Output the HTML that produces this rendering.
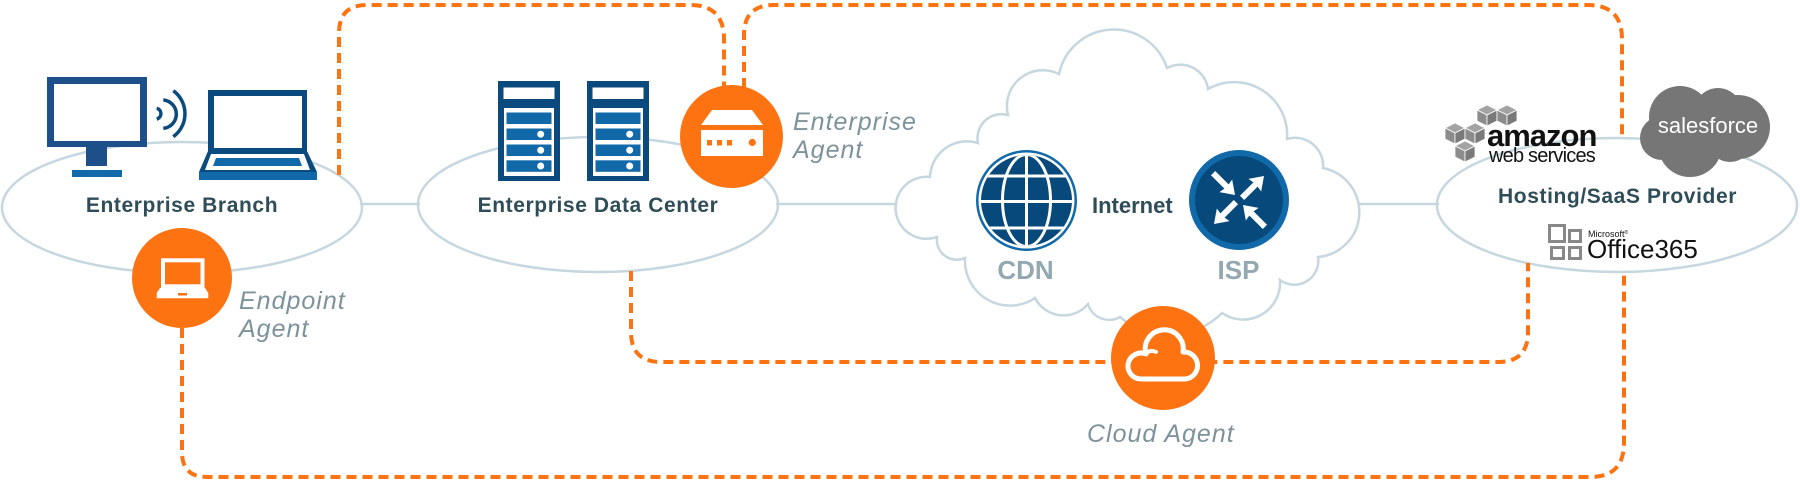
<!DOCTYPE html>
<html>
<head>
<meta charset="utf-8">
<style>
html,body{margin:0;padding:0;background:#fff;}
svg{display:block;}
text{font-family:"Liberation Sans",sans-serif;}
.lbl{font-weight:bold;font-size:21px;fill:#2f4d58;letter-spacing:0.6px;}
.it{font-style:italic;font-size:25px;fill:#7d929b;letter-spacing:1px;}
.gr{font-weight:bold;font-size:26px;fill:#93a8b0;}
</style>
</head>
<body>
<svg width="1800" height="480" viewBox="0 0 1800 480" xmlns="http://www.w3.org/2000/svg">
  <!-- connectors -->
  <g stroke="#c6d7df" stroke-width="2.5" fill="none">
    <line x1="360" y1="204" x2="420" y2="204"/>
    <line x1="776" y1="204" x2="900" y2="204"/>
    <line x1="1358" y1="204" x2="1439" y2="204"/>
  </g>
  <!-- ellipses -->
  <g stroke="#c6d7df" stroke-width="2.5" fill="none">
    <ellipse cx="182" cy="207.5" rx="180" ry="65.5"/>
    <ellipse cx="598" cy="204.5" rx="180" ry="67.5"/>
    <ellipse cx="1617" cy="205" rx="180" ry="67"/>
  </g>
  <!-- internet cloud -->
  <path d="M937,237 A31,31 0 1 1 930,177 A37,37 0 0 1 978,143 A24,24 0 0 1 1008,115 A36,36 0 0 1 1059,74 A56,56 0 0 1 1167,68 A28,28 0 0 1 1208,89 A53,53 0 0 1 1287,139 A28,28 0 0 1 1323,168 A45,45 0 0 1 1318,257 A24,24 0 0 1 1280,280 A37,37 0 0 1 1222,313 A75,75 0 0 1 1120,317 A22,22 0 0 1 1088,304 A32,32 0 0 1 1035,298 A45,45 0 0 1 965,258 A20,20 0 0 1 937,237 Z" fill="#fff" stroke="#c6d7df" stroke-width="2.5"/>

  <!-- dashed orange paths -->
  <g stroke="#fd7311" stroke-width="4" fill="none" stroke-dasharray="10 6">
    <path d="M339,175 L339,33 Q339,5 367,5 L690,5 Q724,5 724,39 L724,88"/>
    <path d="M744,88 L744,35 Q744,5 774,5 L1588,5 Q1622,5 1622,39 L1622,137"/>
    <path d="M631,271 L631,332 Q631,362 661,362 L1498,362 Q1528,362 1528,332 L1528,263"/>
    <path d="M182,328 L182,452 Q182,477 207,477 L1590,477 Q1624,477 1624,443 L1624,272"/>
  </g>

  <!-- monitor -->
  <rect x="47" y="77" width="100" height="70" fill="#1d4f88"/>
  <rect x="54" y="84" width="86" height="57" fill="#fff"/>
  <rect x="86" y="147" width="21" height="19" fill="#1d4f88"/>
  <rect x="72" y="170" width="50" height="7" fill="#1169aa"/>
  <!-- wifi -->
  <g stroke="#0b4a7e" stroke-width="3.5" fill="none" stroke-linecap="butt">
    <path d="M156.7,108.3 A5.5,5.5 0 0 1 156.7,119"/>
    <path d="M163.3,100 A14.2,14.2 0 0 1 163.3,128.3"/>
    <path d="M173.3,90.7 A28.5,28.5 0 0 1 173.3,136.7"/>
  </g>
  <!-- laptop -->
  <polygon points="208,90 307,90 307,151 317,172 199,172 208,151" fill="#0b4a7e"/>
  <rect x="214" y="96" width="88" height="52" fill="#fff"/>
  <polygon points="211,154 304,154 310,170 205,170" fill="#fff"/>
  <polygon points="216,158 299,158 302,166 213,166" fill="#1169aa"/>
  <rect x="199" y="172" width="118" height="8" fill="#1169aa"/>

  <!-- servers -->
  <g>
    <rect x="498" y="81" width="62" height="100" fill="#0b4a7e"/>
    <rect x="503.5" y="87.5" width="51" height="11.5" fill="#fff"/>
    <rect x="504" y="108" width="50" height="68" fill="#fff"/>
    <rect x="506.5" y="112.5" width="45" height="11.5" fill="#1169aa"/>
    <rect x="506.5" y="128.5" width="45" height="11.5" fill="#1169aa"/>
    <rect x="506.5" y="144.5" width="45" height="11.5" fill="#1169aa"/>
    <rect x="506.5" y="160.3" width="45" height="11.5" fill="#1169aa"/>
    <circle cx="540.7" cy="134.2" r="3.5" fill="#fff"/>
    <circle cx="540.7" cy="150.2" r="3.5" fill="#fff"/>
    <circle cx="540.7" cy="166" r="3.5" fill="#fff"/>
  </g>
  <g transform="translate(89,0)">
    <rect x="498" y="81" width="62" height="100" fill="#0b4a7e"/>
    <rect x="503.5" y="87.5" width="51" height="11.5" fill="#fff"/>
    <rect x="504" y="108" width="50" height="68" fill="#fff"/>
    <rect x="506.5" y="112.5" width="45" height="11.5" fill="#1169aa"/>
    <rect x="506.5" y="128.5" width="45" height="11.5" fill="#1169aa"/>
    <rect x="506.5" y="144.5" width="45" height="11.5" fill="#1169aa"/>
    <rect x="506.5" y="160.3" width="45" height="11.5" fill="#1169aa"/>
    <circle cx="540.7" cy="134.2" r="3.5" fill="#fff"/>
    <circle cx="540.7" cy="150.2" r="3.5" fill="#fff"/>
    <circle cx="540.7" cy="166" r="3.5" fill="#fff"/>
  </g>

  <!-- enterprise agent -->
  <circle cx="731.5" cy="136.5" r="51.5" fill="#fd7311"/>
  <polygon points="712,110 752,110 763,125 701,125" fill="#fff"/>
  <rect x="701" y="130" width="62" height="26" fill="#fff"/>
  <rect x="707" y="140" width="5" height="5.5" fill="#fd7311"/>
  <rect x="717" y="140" width="5" height="5.5" fill="#fd7311"/>
  <rect x="727" y="140" width="5" height="5.5" fill="#fd7311"/>
  <circle cx="752.3" cy="142.5" r="3.6" fill="#fd7311"/>

  <!-- endpoint agent -->
  <circle cx="182" cy="278" r="50" fill="#fd7311"/>
  <rect x="163" y="260.3" width="39.5" height="26" fill="none" stroke="#fff" stroke-width="4"/>
  <polygon points="160,288 205,288 208.3,293 208.3,298.3 156.7,298.3 156.7,293" fill="#fff"/>
  <rect x="178" y="293" width="9" height="2.5" fill="#fd7311"/>

  <!-- cloud agent -->
  <circle cx="1163" cy="358" r="52" fill="#fd7311"/>
  <path d="M1141,379 A13,13 0 1 1 1146,354 A19,19 0 1 1 1183,352 A13.5,13.5 0 1 1 1185,379 Z" fill="none" stroke="#fff" stroke-width="5" stroke-linejoin="round"/>
  <path d="M1146,354 Q1150,349 1156,352" fill="none" stroke="#fff" stroke-width="4" stroke-linecap="round"/>

  <!-- globe -->
  <circle cx="1026.5" cy="200.5" r="50.5" fill="#1169aa"/>
  <circle cx="1026.5" cy="200.5" r="48" fill="#fff"/>
  <circle cx="1026.5" cy="200.5" r="45.5" fill="#06497a"/>
  <clipPath id="gc"><circle cx="1026.5" cy="200.5" r="45.5"/></clipPath>
  <g clip-path="url(#gc)" stroke="#fff" stroke-width="3" fill="none">
    <line x1="1026.5" y1="150" x2="1026.5" y2="251"/>
    <ellipse cx="1026.5" cy="200.5" rx="24" ry="46"/>
    <line x1="975" y1="176" x2="1078" y2="176"/>
    <line x1="975" y1="201.5" x2="1078" y2="201.5"/>
    <line x1="975" y1="228" x2="1078" y2="228"/>
  </g>

  <!-- ISP -->
  <circle cx="1239" cy="200" r="50" fill="#1169aa"/>
  <circle cx="1239" cy="200" r="44" fill="#06497a"/>
  <g transform="translate(1239,200)" fill="#fff">
    <path transform="translate(-4,-5) rotate(45)" d="M0,0 L-13,-9 L-12,-3 L-31,-3 L-31,3 L-12,3 L-13,9 Z"/>
    <path transform="translate(25,-24) rotate(-45)" d="M0,0 L-13,-9 L-12,-3 L-31,-3 L-31,3 L-12,3 L-13,9 Z"/>
    <path transform="translate(-25,24) rotate(135)" d="M0,0 L-13,-9 L-12,-3 L-31,-3 L-31,3 L-12,3 L-13,9 Z"/>
    <path transform="translate(4,5) rotate(-135)" d="M0,0 L-13,-9 L-12,-3 L-31,-3 L-31,3 L-12,3 L-13,9 Z"/>
  </g>

  <!-- AWS cubes -->
  <g stroke="#fff" stroke-width="0.8">
    <g transform="translate(1477,105)"><polygon points="0,5 10,0 20,5 10,10" fill="#a3a3a3"/><polygon points="0,5 10,10 10,21 0,16" fill="#8c8c8c"/><polygon points="10,10 20,5 20,16 10,21" fill="#7a7a7a"/></g>
    <g transform="translate(1497,105)"><polygon points="0,5 10,0 20,5 10,10" fill="#a3a3a3"/><polygon points="0,5 10,10 10,21 0,16" fill="#8c8c8c"/><polygon points="10,10 20,5 20,16 10,21" fill="#7a7a7a"/></g>
    <g transform="translate(1445,123)"><polygon points="0,5 10,0 20,5 10,10" fill="#a3a3a3"/><polygon points="0,5 10,10 10,21 0,16" fill="#8c8c8c"/><polygon points="10,10 20,5 20,16 10,21" fill="#7a7a7a"/></g>
    <g transform="translate(1465,123)"><polygon points="0,5 10,0 20,5 10,10" fill="#a3a3a3"/><polygon points="0,5 10,10 10,21 0,16" fill="#8c8c8c"/><polygon points="10,10 20,5 20,16 10,21" fill="#7a7a7a"/></g>
    <g transform="translate(1455,141)"><polygon points="0,5 10,0 20,5 10,10" fill="#a3a3a3"/><polygon points="0,5 10,10 10,21 0,16" fill="#8c8c8c"/><polygon points="10,10 20,5 20,16 10,21" fill="#7a7a7a"/></g>
  </g>
  <text x="1487" y="146" font-size="31" font-weight="bold" fill="#111" letter-spacing="-1">amazon</text>
  <text x="1489" y="162" font-size="20" fill="#111" letter-spacing="-0.8">web services</text>

  <!-- salesforce -->
  <g fill="#767676">
    <circle cx="1680" cy="117" r="31"/>
    <circle cx="1718" cy="112" r="24"/>
    <circle cx="1738" cy="127" r="32"/>
    <circle cx="1690" cy="145" r="32"/>
    <circle cx="1662" cy="138" r="22"/>
    <circle cx="1730" cy="140" r="22"/>
  </g>
  <text x="1708" y="133" text-anchor="middle" font-size="22" fill="#fff">salesforce</text>

  <!-- Office 365 -->
  <g fill="none" stroke="#888" stroke-width="3">
    <rect x="1549.5" y="225.5" width="15" height="16"/>
    <rect x="1569.5" y="230.5" width="11" height="11"/>
    <rect x="1551.5" y="247.5" width="12" height="11"/>
    <rect x="1569.5" y="247.5" width="11" height="11"/>
  </g>
  <text x="1588" y="237" font-size="9" fill="#111">Microsoft<tspan font-size="5" dy="-3">®</tspan></text>
  <text x="1587" y="258" font-size="26" fill="#111">Office365</text>

  <!-- labels -->
  <text class="lbl" x="182" y="212" text-anchor="middle">Enterprise Branch</text>
  <text class="lbl" x="598" y="212" text-anchor="middle">Enterprise Data Center</text>
  <text class="lbl" x="1617.5" y="203" text-anchor="middle">Hosting/SaaS Provider</text>
  <text x="1092" y="213" font-size="22" font-weight="bold" fill="#2f4d58">Internet</text>
  <text class="gr" x="1025.5" y="279" text-anchor="middle">CDN</text>
  <text class="gr" x="1238.5" y="279" text-anchor="middle">ISP</text>

  <text class="it" x="793" y="130">Enterprise</text>
  <text class="it" x="793" y="158">Agent</text>
  <text class="it" x="239" y="309">Endpoint</text>
  <text class="it" x="239" y="337">Agent</text>
  <text class="it" x="1087" y="442" font-size="26">Cloud Agent</text>
</svg>
</body>
</html>
